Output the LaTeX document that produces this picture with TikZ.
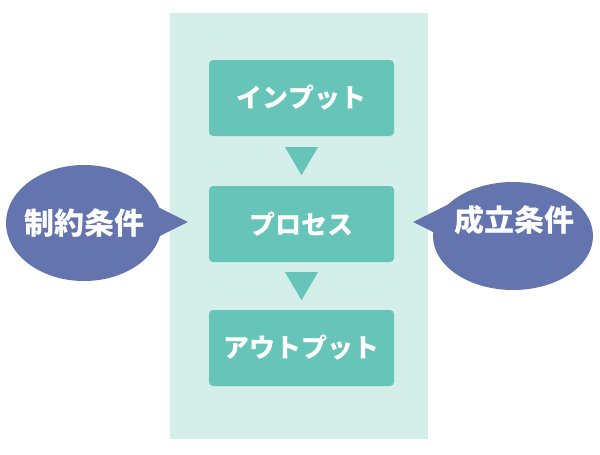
\documentclass[tikz,border=0pt]{standalone}
\usepackage{fontspec}
\setmainfont{Noto Sans CJK JP}
\usetikzlibrary{positioning,shapes.geometric,calc}
\usepackage{xcolor}
\definecolor{panelbg}{HTML}{D4EFEA}
\definecolor{boxteal}{HTML}{66C5B8}
\definecolor{bubblue}{HTML}{6374AE}

\begin{document}
\begin{tikzpicture}[
    x=1pt, y=-1pt,
    stage/.style={fill=boxteal, rounded corners=4pt, minimum width=185pt, minimum height=76pt, inner sep=0pt, text=white, font=\fontsize{26}{26}\selectfont\bfseries},
    bubble/.style={ellipse, fill=bubblue, inner sep=0pt},
    bubtext/.style={text=white, font=\fontsize{30}{30}\selectfont\bfseries},
    flow/.style={fill=boxteal}
]
\useasboundingbox (0,0) rectangle (600,455);

% background panel
\fill[panelbg] (170,13) rectangle (428,439);

% stages
\node[stage] (input) at (301.5,98) {インプット};
\node[stage] (process) at (301.5,224) {プロセス};
\node[stage] (output) at (301.5,348) {アウトプット};

% downward triangles
\fill[flow] ($(input.south)+(-16.5,11)$) -- ($(input.south)+(16.5,11)$) -- ($(input.south)+(0,39)$) -- cycle;
\fill[flow] ($(process.south)+(-16.5,10)$) -- ($(process.south)+(16.5,10)$) -- ($(process.south)+(0,38)$) -- cycle;

% left bubble
\node[bubble, minimum width=156pt, minimum height=116pt] (constraint) at (84,223) {};
\coordinate (ltip) at ($(process.west)+(-21,-2)$);
\fill[bubblue] ($(ltip)+(-50,-25)$) -- (ltip) -- ($(ltip)+(-50,25)$) -- cycle;
\node[bubtext] (ctext) at (constraint.center) {制約条件};

% right bubble
\node[bubble, minimum width=160pt, minimum height=108pt] (success) at (513,236) {};
\coordinate (rtip) at ($(process.east)+(19,-2)$);
\fill[bubblue] ($(rtip)+(50,-25)$) -- (rtip) -- ($(rtip)+(50,25)$) -- cycle;
\node[bubtext] (stext) at ($(success.center)+(1,-16)$) {成立条件};

\end{tikzpicture}
\end{document}
